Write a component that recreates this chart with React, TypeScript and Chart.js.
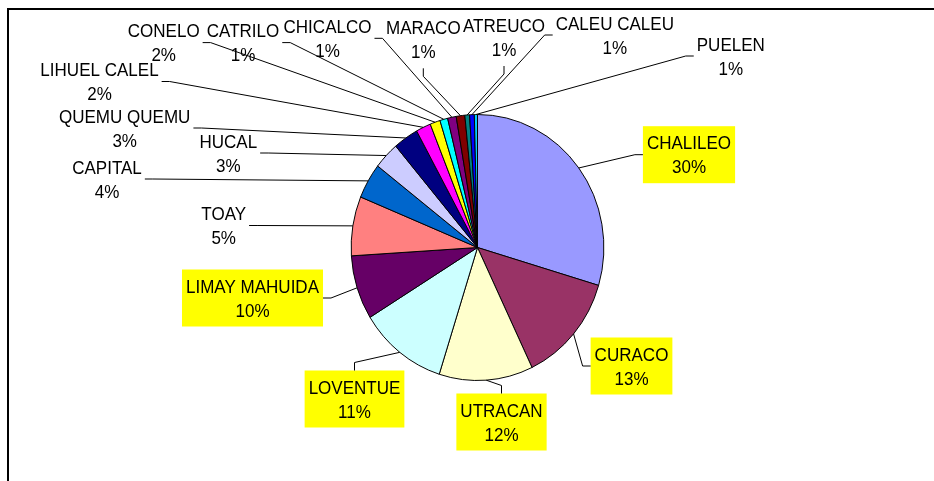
import React, { useEffect, useRef } from "react";
import { Chart, registerables } from "chart.js";

Chart.register(...registerables);

// ---- data ----
const categories = [
  "CHALILEO", "CURACO", "UTRACAN", "LOVENTUE", "LIMAY MAHUIDA", "TOAY", "CAPITAL",
  "HUCAL", "QUEMU QUEMU", "LIHUEL CALEL", "CONELO", "CATRILO", "CHICALCO",
  "MARACO", "ATREUCO", "CALEU CALEU", "PUELEN",
];
const values = [29.6, 13.3, 12.0, 11.3, 7.8, 7.2, 4.3, 3.3, 3.2, 1.9, 1.3, 1.0, 1.1, 1.1, 0.6, 0.6, 0.4];
const percentLabels = ["30%", "13%", "12%", "11%", "10%", "5%", "4%", "3%", "3%", "2%", "2%", "1%", "1%", "1%", "1%", "1%", "1%"];
const highlighted = [true, true, true, true, true, false, false, false, false, false, false, false, false, false, false, false, false];

// ---- styles / layout ----
const colors = [
  "#9999FF", "#993366", "#FFFFCC", "#CCFFFF", "#660066", "#FF8080", "#0066CC",
  "#CCCCFF", "#000080", "#FF00FF", "#FFFF00", "#00FFFF", "#800080", "#800000",
  "#008080", "#0000FF", "#00CCFF",
];
// label block centre relative to pie centre, and the side the leader attaches to
const labelLayout = [
  { dx: 211.5, dy: -92.8, side: "left" },
  { dx: 154, dy: 118.5, side: "left" },
  { dx: 24, dy: 174.5, side: "top" },
  { dx: -123, dy: 151.5, side: "top" },
  { dx: -225, dy: 50.5, side: "right" },
  { dx: -253.8, dy: -22, side: "right" },
  { dx: -370.5, dy: -68.5, side: "right" },
  { dx: -249.2, dy: -94.5, side: "right" },
  { dx: -352.8, dy: -119.5, side: "right" },
  { dx: -378, dy: -166, side: "right" },
  { dx: -313.8, dy: -204.9, side: "right" },
  { dx: -234.5, dy: -204.9, side: "right" },
  { dx: -150, dy: -209.2, side: "right" },
  { dx: -54.2, dy: -207.7, side: "bottom" },
  { dx: 26.5, dy: -210, side: "bottom" },
  { dx: 137.3, dy: -212.5, side: "left" },
  { dx: 253.3, dy: -191.5, side: "left" },
];

const SX = 0.95; // horizontal squeeze of the pie
const FONT_SIZE = 18.5;
const TEXT_SX = 0.92; // narrow lettering
const FONT = `${FONT_SIZE}px "Liberation Sans", Arial, sans-serif`;
const LINE_H = 24;
const CAP = FONT_SIZE * 0.716;
const HALF_BOX = 28.5;
const ELBOW = 8;

function drawNarrowText(ctx: CanvasRenderingContext2D, text: string, x: number, y: number) {
  ctx.save();
  ctx.translate(x, y);
  ctx.scale(TEXT_SX, 1);
  ctx.fillText(text, 0, 0);
  ctx.restore();
}

const pieLabelPlugin = {
  id: "pieLabels",
  beforeDatasetsDraw(chart: any) {
    const el = chart.getDatasetMeta(0).data[0];
    const { x, y } = el.getProps(["x", "y"], true);
    const ctx = chart.ctx;
    ctx.save();
    ctx.translate(x, y);
    ctx.scale(SX, 1);
    ctx.translate(-x, -y);
  },
  afterDatasetsDraw(chart: any) {
    const ctx = chart.ctx;
    ctx.restore();
    const meta = chart.getDatasetMeta(0);
    ctx.save();
    ctx.font = FONT;
    ctx.lineWidth = 1;
    ctx.strokeStyle = "#000";
    meta.data.forEach((el: any, i: number) => {
      const label = categories[i];
      if (!label) return;
      const p = el.getProps(["x", "y", "startAngle", "endAngle", "outerRadius"], true);
      const mid = (p.startAngle + p.endAngle) / 2;
      const sx = p.x + Math.cos(mid) * p.outerRadius * SX;
      const sy = p.y + Math.sin(mid) * p.outerRadius;
      const L = labelLayout[i];
      const cx = p.x + L.dx;
      const cy = p.y + L.dy;
      const lines = [label, percentLabels[i]];
      const w = Math.max(...lines.map((t) => ctx.measureText(t).width)) * TEXT_SX;
      const pad = highlighted[i] ? 4 : 3;
      const left = cx - w / 2 - pad;
      const right = cx + w / 2 + pad;
      const top = cy - HALF_BOX;
      const bottom = cy + HALF_BOX;
      let ax = cx, ay = cy, ex = cx, ey = cy;
      if (L.side === "left") { ax = left; ay = cy; ex = left - ELBOW; ey = cy; }
      else if (L.side === "right") { ax = right; ay = cy; ex = right + ELBOW; ey = cy; }
      else if (L.side === "top") { ax = cx; ay = top; ex = cx; ey = top - ELBOW; }
      else { ax = cx; ay = bottom; ex = cx; ey = bottom + ELBOW; }

      if (highlighted[i]) {
        ctx.fillStyle = "#FFFF00";
        ctx.fillRect(left, top, right - left, bottom - top);
      }
      ctx.fillStyle = "#000";
      ctx.textAlign = "center";
      ctx.textBaseline = "alphabetic";
      drawNarrowText(ctx, lines[0], cx, cy - LINE_H / 2 + CAP / 2);
      drawNarrowText(ctx, lines[1], cx, cy + LINE_H / 2 + CAP / 2);

      ctx.beginPath();
      ctx.moveTo(sx, sy);
      ctx.lineTo(ex, ey);
      ctx.lineTo(ax, ay);
      ctx.stroke();
    });
    ctx.restore();
  },
};

export default function App() {
  const ref = useRef<HTMLCanvasElement | null>(null);
  useEffect(() => {
    if (!ref.current) return;
    const chart = new Chart(ref.current, {
      type: "pie",
      data: {
        labels: categories,
        datasets: [
          {
            data: values,
            backgroundColor: colors,
            borderColor: "#000",
            borderWidth: 1,
            radius: 133,
          } as any,
        ],
      },
      options: {
        responsive: false,
        animation: false,
        events: [],
        layout: { padding: { left: 21, right: 0, top: 14, bottom: 0 } },
        plugins: {
          legend: { display: false },
          tooltip: { enabled: false },
          title: { display: false },
        },
      },
      plugins: [pieLabelPlugin],
    });
    return () => chart.destroy();
  }, []);

  return (
    <div style={{ position: "fixed", left: 0, top: 0, width: 934, height: 481, overflow: "hidden", background: "#fff" }}>
      <canvas ref={ref} width={934} height={481} style={{ position: "absolute", left: 0, top: 0, width: 934, height: 481 }} />
      <div
        style={{
          position: "absolute",
          left: 7,
          top: 8,
          width: 960,
          height: 500,
          borderTop: "2px solid #000",
          borderLeft: "2px solid #000",
          pointerEvents: "none",
        }}
      />
    </div>
  );
}
